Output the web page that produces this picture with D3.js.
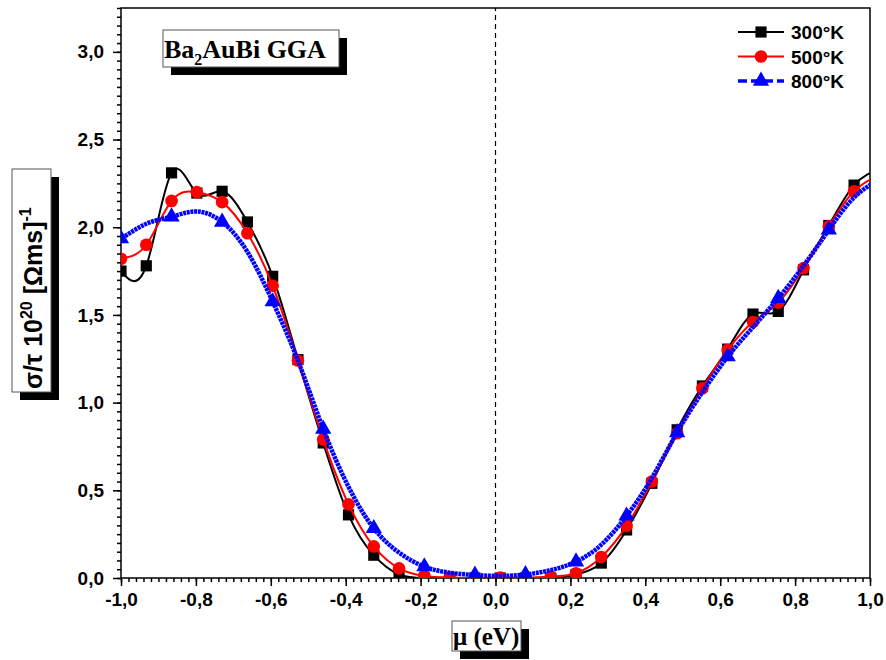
<!DOCTYPE html>
<html>
<head>
<meta charset="utf-8">
<script src="https://cdn.jsdelivr.net/npm/d3@7"></script>
<style>
  body { margin: 0; background: #fff; }
  svg { display: block; }
  .tick text { font-family: "Liberation Sans", Arial, sans-serif; font-weight: bold; font-size: 19px; fill: #000; }
</style>
</head>
<body>
<div id="chart"></div>
<script>
// chemical potential grid (eV), one value per computed point
const MU = [-1.0675, -1.0, -0.9325, -0.865, -0.7975, -0.73, -0.6625, -0.595, -0.5275, -0.46, -0.3925,
  -0.325, -0.2575, -0.19, -0.1225, -0.055, 0.0125, 0.08, 0.1475, 0.215, 0.2825,
  0.35, 0.4175, 0.485, 0.5525, 0.62, 0.6875, 0.755, 0.8225, 0.89, 0.9575, 1.025];

// sigma/tau (10^20 / Ohm m s) for each temperature
const T300 = [1.95, 1.75, 1.78, 2.31, 2.195, 2.205, 2.03, 1.72, 1.245, 0.77, 0.36,
  0.13, 0.02, 0.0, 0.0, 0.0, 0.0, 0.0, 0.0, 0.02, 0.085,
  0.274, 0.54, 0.845, 1.095, 1.305, 1.505, 1.52, 1.757, 2.01, 2.24, 2.33];
const T500 = [1.78, 1.82, 1.90, 2.15, 2.20, 2.143, 1.966, 1.666, 1.24, 0.79, 0.42,
  0.18, 0.055, 0.012, 0.003, 0.0, 0.003, 0.003, 0.008, 0.027, 0.12,
  0.297, 0.55, 0.825, 1.082, 1.30, 1.46, 1.57, 1.767, 2.005, 2.205, 2.30];
const T800 = [1.86, 1.935, 2.02, 2.06, 2.09, 2.03, 1.86, 1.576, 1.24, 0.85, 0.52,
  0.283, 0.145, 0.065, 0.03, 0.017, 0.012, 0.02, 0.045, 0.093, 0.19,
  0.354, 0.57, 0.83, 1.06, 1.262, 1.43, 1.595, 1.78, 1.985, 2.17, 2.27];

const SERIES_NAMES = ['300°K', '500°K', '800°K'];
const X_TICKS = [-1.0, -0.8, -0.6, -0.4, -0.2, 0.0, 0.2, 0.4, 0.6, 0.8, 1.0];
const Y_TICKS = [0.0, 0.5, 1.0, 1.5, 2.0, 2.5, 3.0];

const WIDTH = 886, HEIGHT = 660;
const MARGINS = {left: 121, right: 16, top: 8, bottom: 82};

const svg = d3.select('#chart').append('svg')
  .attr('width', WIDTH).attr('height', HEIGHT);

const x = d3.scaleLinear().domain([-1, 1]).range([MARGINS.left, WIDTH - MARGINS.right]);
const y = d3.scaleLinear().domain([0, 3.25]).range([HEIGHT - MARGINS.bottom, MARGINS.top]);

const fmt = d => d3.format('.1f')(d).replace('.', ',').replace('−', '-');

// clip to the plot area
svg.append('clipPath').attr('id', 'clip')
  .append('rect')
  .attr('x', x(-1)).attr('y', y(3.25))
  .attr('width', x(1) - x(-1)).attr('height', y(0) - y(3.25));

// minor ticks
svg.append('g')
  .attr('transform', `translate(0,${y(0)})`)
  .call(d3.axisBottom(x).ticks(100).tickSize(4).tickFormat(''))
  .call(g => g.select('.domain').remove())
  .selectAll('line').attr('stroke-width', 1.5);
svg.append('g')
  .attr('transform', `translate(${x(-1)},0)`)
  .call(d3.axisLeft(y).tickValues(d3.range(0, 3.251, 0.05)).tickSize(4).tickFormat(''))
  .call(g => g.select('.domain').remove())
  .selectAll('line').attr('stroke-width', 1.5);

// major axes
svg.append('g')
  .attr('transform', `translate(0,${y(0)})`)
  .call(d3.axisBottom(x).tickValues(X_TICKS).tickSize(8).tickPadding(7).tickFormat(fmt))
  .call(g => g.select('.domain').remove())
  .selectAll('line').attr('stroke-width', 1.5);
svg.append('g')
  .attr('transform', `translate(${x(-1)},0)`)
  .call(d3.axisLeft(y).tickValues(Y_TICKS).tickSize(8).tickPadding(9).tickFormat(fmt))
  .call(g => g.select('.domain').remove())
  .selectAll('line').attr('stroke-width', 1.5);

// frame
svg.append('rect')
  .attr('x', x(-1)).attr('y', y(3.25))
  .attr('width', x(1) - x(-1)).attr('height', y(0) - y(3.25))
  .attr('fill', 'none').attr('stroke', '#000').attr('stroke-width', 1.5);

// dashed line at mu = 0
svg.append('line')
  .attr('x1', x(0)).attr('x2', x(0))
  .attr('y1', y(0)).attr('y2', y(3.25))
  .attr('stroke', '#000').attr('stroke-width', 1.2)
  .attr('stroke-dasharray', '5,4');

const series = [
  {name: SERIES_NAMES[0], values: T300, color: '#000000', width: 2, dash: null, sym: d3.symbolSquare, size: 125, every: 1, legendDash: null},
  {name: SERIES_NAMES[1], values: T500, color: '#ff0000', width: 2, dash: null, sym: d3.symbolCircle, size: 125, every: 1, legendDash: null},
  {name: SERIES_NAMES[2], values: T800, color: '#0000ff', width: 4.5, dash: '3,0.7', sym: d3.symbolTriangle, size: 115, every: 2, legendDash: '9,4'}
];

const line = d3.line()
  .x((d, i) => x(MU[i]))
  .y(d => y(d))
  .curve(d3.curveNatural);

const plot = svg.append('g').attr('clip-path', 'url(#clip)');

series.forEach(s => {
  plot.append('path')
    .attr('d', line(s.values))
    .attr('fill', 'none')
    .attr('stroke', s.color)
    .attr('stroke-width', s.width)
    .attr('stroke-dasharray', s.dash);

  // markers (800 K shows every other point, starting at mu = -1)
  const pts = s.values.map((v, i) => ({mu: MU[i], v: v, i: i}))
    .filter(d => (d.i - 1) % s.every === 0);
  plot.selectAll(null)
    .data(pts)
    .join('path')
    .attr('transform', d => `translate(${x(d.mu)},${y(d.v)})`)
    .attr('d', d3.symbol().type(s.sym).size(s.size))
    .attr('fill', s.color);
});

// legend
const legend = svg.append('g');
series.forEach((s, i) => {
  const ly = 32 + i * 24.5;
  legend.append('line')
    .attr('x1', 738).attr('x2', 784).attr('y1', ly).attr('y2', ly)
    .attr('stroke', s.color).attr('stroke-width', s.width > 3 ? 3.5 : 2)
    .attr('stroke-dasharray', s.legendDash);
  legend.append('path')
    .attr('transform', `translate(761,${ly})`)
    .attr('d', d3.symbol().type(s.sym).size(s.size))
    .attr('fill', s.color);
  legend.append('text')
    .attr('x', 791).attr('y', ly + 7)
    .style('font-family', '"Liberation Sans", Arial, sans-serif')
    .style('font-weight', 'bold').style('font-size', '19px')
    .text(s.name);
});

// boxed label with drop shadow
function shadowBox(x0, y0, w, h, off) {
  svg.append('rect').attr('x', x0 + off).attr('y', y0 + off)
    .attr('width', w).attr('height', h).attr('fill', '#000');
  svg.append('rect').attr('x', x0).attr('y', y0)
    .attr('width', w).attr('height', h)
    .attr('fill', '#fff').attr('stroke', '#555').attr('stroke-width', 1);
}

// title
shadowBox(163, 30, 176, 37, 8);
const title = svg.append('text')
  .attr('x', 164).attr('y', 58)
  .style('font-family', '"Liberation Serif", "Times New Roman", serif')
  .style('font-weight', 'bold').style('font-size', '26px');
title.append('tspan').text('Ba');
title.append('tspan').attr('dy', 7).style('font-size', '16px').text('2');
title.append('tspan').attr('dy', -7).text('AuBi GGA');

// x label
shadowBox(452, 621, 69, 30, 8);
svg.append('text')
  .attr('x', 453).attr('y', 645)
  .style('font-family', '"Liberation Serif", "Times New Roman", serif')
  .style('font-weight', 'bold').style('font-size', '25px')
  .text('μ (eV)');

// y label
shadowBox(12, 169, 39, 223, 8);
const ylab = svg.append('text')
  .attr('transform', 'translate(42,390) rotate(-90)')
  .attr('x', 1).attr('y', 0)
  .style('font-family', '"Liberation Sans", Arial, sans-serif')
  .style('font-weight', 'bold').style('font-size', '25px');
ylab.append('tspan').text('σ/τ  10');
ylab.append('tspan').attr('dy', -10).style('font-size', '16px').text('20');
ylab.append('tspan').attr('dy', 10).text(' [Ωms]');
ylab.append('tspan').attr('dy', -11).style('font-size', '16px').text('-1');
</script>
</body>
</html>
